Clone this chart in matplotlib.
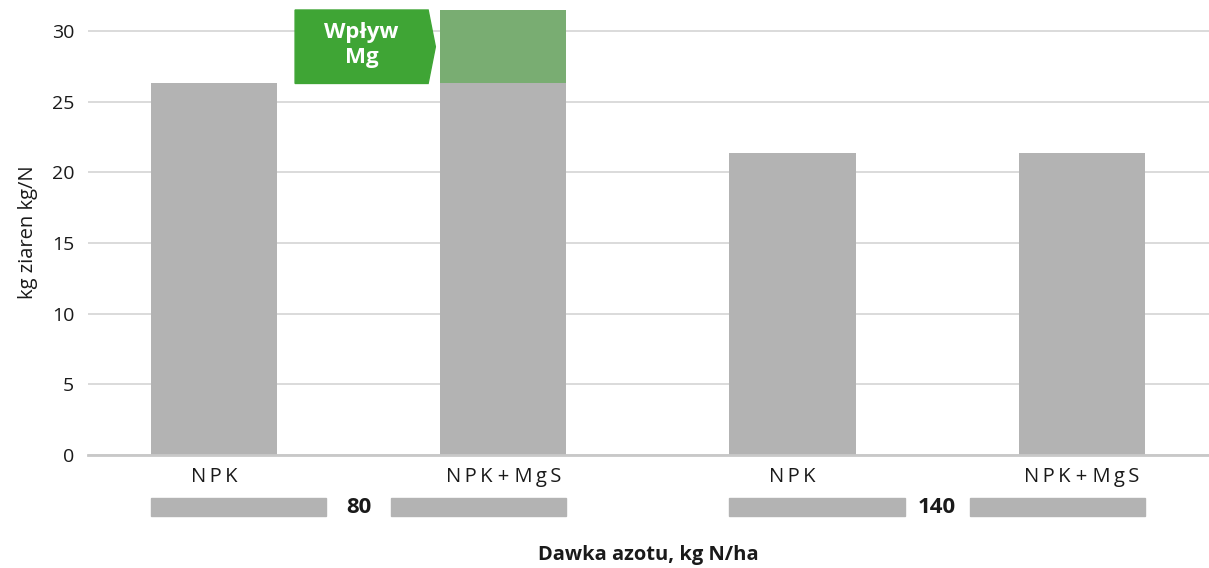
import matplotlib.pyplot as plt
import matplotlib.transforms as mtransforms
from matplotlib.patches import Polygon, Rectangle

plt.rcParams['font.family'] = ['Open Sans', 'DejaVu Sans']

# data
categories = ["NPK", "NPK + MgS", "NPK", "NPK + MgS"]
base_values = [26.3, 26.3, 21.4, 21.4]
mg_effect = [0, 5.2, 0, 0]
doses = ["80", "140"]
y_ticks = [0, 5, 10, 15, 20, 25, 30]

GRAY = "#b3b3b3"
GREEN_BAR = "#79ad72"
GREEN_BADGE = "#3fa535"
TEXT = "#1a1a1a"

fig = plt.figure(figsize=(12.09, 5.68), dpi=100)
ax = fig.add_axes([0.0728, 0.199, 0.9272, 0.7834])

x = list(range(len(categories)))
width = 0.436
ax.bar(x, base_values, width=width, color=GRAY, zorder=2)
ax.bar(x, mg_effect, width=width, bottom=base_values, color=GREEN_BAR, zorder=2)

ax.set_xlim(-0.436, len(categories) - 1 + 0.44)
ax.set_ylim(0, 31.5)
ax.set_yticks(y_ticks)
ax.set_yticklabels([str(t) for t in y_ticks], fontsize=14, color=TEXT)
ax.yaxis.grid(True, color="#d4d4d4", linewidth=1.2, zorder=0)
ax.set_axisbelow(True)
for s in ["top", "right", "left"]:
    ax.spines[s].set_visible(False)
ax.spines["bottom"].set_color("#c8c8c8")
ax.spines["bottom"].set_linewidth(2)
ax.tick_params(axis="y", length=0, pad=10)
ax.tick_params(axis="x", length=0, pad=9)
ax.set_xticks(x)
spaced = ["\u2009".join(c).replace("\u2009 \u2009", " ") for c in categories]
ax.set_xticklabels(spaced, fontsize=14.5, color=TEXT)
ax.set_ylabel("kg ziaren kg/N", fontsize=14.5, color=TEXT, labelpad=10)

# dose group bars below axis
trans = mtransforms.blended_transform_factory(ax.transData, ax.transAxes)
for g, dose in enumerate(doses):
    left_bar = 2 * g
    right_bar = 2 * g + 1
    center = (left_bar + right_bar) / 2
    gap = 0.112
    ax.add_patch(Rectangle((left_bar - width / 2, -0.137), center - gap - (left_bar - width / 2), 0.041,
                           transform=trans, color=GRAY, clip_on=False))
    ax.add_patch(Rectangle((center + gap, -0.137), right_bar + width / 2 - (center + gap), 0.041,
                           transform=trans, color=GRAY, clip_on=False))
    ax.text(center, -0.118, dose, transform=trans, ha="center", va="center",
            fontsize=16, fontweight="bold", color=TEXT)

# "Wpływ Mg" badge next to the Mg effect segment
i = 1
y0 = base_values[i]
y1 = base_values[i] + mg_effect[i]
bx0 = i - 0.72
bx1 = i - 0.26
tip = i - 0.235
ym = (y0 + y1) / 2
badge = Polygon([(bx0, y0), (bx1, y0), (tip, ym), (bx1, y1), (bx0, y1)],
                closed=True, color=GREEN_BADGE, zorder=3, clip_on=False)
ax.add_patch(badge)
ax.text((bx0 + bx1) / 2, ym + 0.1, "Wpływ\nMg", ha="center", va="center", color="white",
        fontsize=16, fontweight="bold", linespacing=1.25, zorder=4)

fig.text(0.536, 0.023, "Dawka azotu, kg N/ha", ha="center", va="center",
         fontsize=14.5, fontweight="bold", color=TEXT)

fig.savefig("out.png", dpi=100)
